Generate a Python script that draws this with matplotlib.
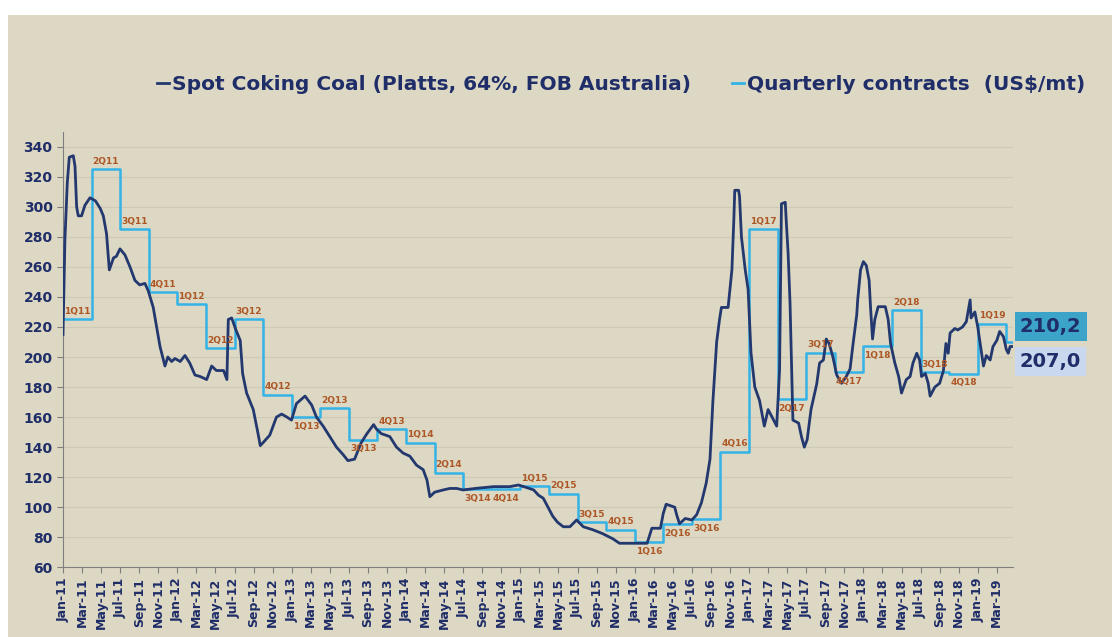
import matplotlib
matplotlib.use("Agg")
import matplotlib.pyplot as plt
from matplotlib.patches import Rectangle
from matplotlib.lines import Line2D

# spot price, months since Jan-2011
spot_month = [0.0, 0.2, 0.45, 0.66, 1.08, 1.26, 1.43, 1.6, 1.95, 2.3, 2.83, 3.4, 3.9, 4.23, 4.57,
              4.86, 5.3, 5.6, 5.98, 6.5, 7.03, 7.55, 8.05, 8.6, 8.95, 9.47, 9.83, 10.18, 10.7, 11.0,
              11.4, 11.75, 12.3, 12.8, 13.3, 13.85, 14.4, 15.08, 15.6, 16.1, 16.85, 17.2, 17.35, 17.7,
              18.15, 18.6, 18.85, 19.27, 19.97, 20.5, 20.7, 21.0, 21.7, 22.4, 22.95, 23.5, 23.98, 24.5,
              25.4, 26.1, 26.6, 27.3, 28.0, 28.7, 29.4, 29.9, 30.6, 31.3, 31.9, 32.6, 32.9, 33.4, 34.3,
              35.0, 35.7, 36.4, 37.1, 37.8, 38.2, 38.5, 39.0, 39.9, 40.6, 41.3, 42.0, 43.4, 45.2, 46.9,
              47.8, 48.7, 49.4, 49.9, 50.4, 50.9, 51.4, 51.9, 52.5, 53.2, 53.9, 54.6, 55.6, 56.6, 57.7,
              58.4, 59.8, 61.3, 61.8, 62.7, 63.0, 63.3, 64.2, 64.4, 64.7, 65.3, 66.0, 66.5, 67.0, 67.5,
              67.9, 68.2, 68.6, 68.9, 69.1, 69.8, 70.2, 70.4, 70.5, 70.9, 71.0, 71.2, 71.6, 71.9, 72.2,
              72.6, 73.1, 73.6, 74.0, 74.5, 74.9, 75.2, 75.4, 75.8, 75.9, 76.1, 76.3, 76.6, 77.2, 77.5,
              77.8, 78.1, 78.5, 79.1, 79.4, 79.8, 80.1, 80.4, 80.8, 81.2, 81.7, 82.2, 82.6, 82.9, 83.3,
              83.4, 83.7, 84.0, 84.3, 84.6, 84.75, 84.96, 85.2, 85.55, 86.3, 86.6, 86.85, 87.3, 87.7,
              88.0, 88.5, 88.9, 89.2, 89.6, 89.9, 90.1, 90.5, 90.8, 91.0, 91.5, 92.0, 92.4, 92.66, 92.9,
              93.1, 93.6, 93.9, 94.4, 94.8, 95.2, 95.3, 95.7, 96.0, 96.4, 96.6, 96.9, 97.3, 97.6, 98.0,
              98.3, 98.7, 99.0, 99.2, 99.4, 99.7]
spot_value = [215, 278, 316, 333, 334, 327, 300, 294, 294, 301, 306, 304, 299, 294, 282,
              258, 266, 267, 272, 268, 260, 251, 248, 249, 244, 233, 220, 207, 194, 200,
              197, 199, 197, 201, 196, 188, 187, 185, 194, 191, 191, 185, 225, 226,
              218, 211, 189, 176, 165, 148, 141, 143, 148, 160, 162, 160, 158, 169,
              174, 168, 160, 154, 147, 140, 135, 131, 132, 143, 149, 155, 152, 149, 147,
              140, 136, 134, 128, 125, 118, 107, 110, 111.5, 112.5, 112.5, 111.5, 112.6, 113.7, 113.7,
              114.8, 113, 111.5, 108, 106, 100, 94, 90, 87, 87, 91.5, 87, 85, 82.5, 79,
              76, 76, 76, 86, 86, 96, 102, 100, 95, 89, 92.5, 91.5, 95, 103, 116,
              132, 170, 210, 225, 233, 233, 258, 291, 311, 311, 307, 280, 258, 245, 203,
              180, 171, 154, 165, 159, 154, 191, 302, 303, 291, 269, 236, 158, 156, 147,
              140, 145, 165, 182, 196, 198, 212, 209, 200, 188, 182.5, 187, 192, 208, 228,
              238, 258, 263.5, 261, 251, 233, 212, 225, 233.5, 233.5, 225, 209, 196, 187,
              176, 185, 187, 196, 202.5, 198, 187, 189, 182.5, 174, 180, 182.5, 191, 209, 202.5,
              216, 219, 218, 220, 223.5, 238, 226, 230, 220, 202.5, 194, 201, 198, 207, 211,
              217, 213.5, 205, 202.5, 207, 207]

quarters = ['1Q11', '2Q11', '3Q11', '4Q11', '1Q12', '2Q12', '3Q12', '4Q12',
            '1Q13', '2Q13', '3Q13', '4Q13', '1Q14', '2Q14', '3Q14', '4Q14',
            '1Q15', '2Q15', '3Q15', '4Q15', '1Q16', '2Q16', '3Q16', '4Q16',
            '1Q17', '2Q17', '3Q17', '4Q17', '1Q18', '2Q18', '3Q18', '4Q18',
            '1Q19', '2Q19']
quarter_value = [225, 325, 285, 243, 235, 206, 225, 175,
                 160, 166, 145, 152, 143, 123, 112, 112,
                 114, 109, 90, 85, 77, 89, 92, 137,
                 285, 172, 203, 190, 207, 231, 190, 189,
                 222, 210.2]
# label above (1) or below (0) the step
label_above = [1, 1, 1, 1, 1, 1, 1, 1, 0, 1, 0, 1, 1, 1, 0, 0,
               1, 1, 1, 1, 0, 0, 0, 1, 1, 0, 1, 0, 0, 1, 1, 0, 1, 1]

month_names = ['Jan', 'Mar', 'May', 'Jul', 'Sep', 'Nov']
years = list(range(11, 20))
tick_labels = [f'{m}-{y}' for y in years for m in month_names][:50]

last_spot = '207,0'
last_quarter = '210,2'

navy = '#1f2d68'
spot_c = '#22386f'
quart_c = '#33b3e6'
lab_c = '#ad5726'
bg = '#ddd8c3'

plt.rcParams['font.family'] = ['DejaVu Sans']
plt.rcParams['font.weight'] = 'bold'

fig = plt.figure(figsize=(11.12, 6.37), dpi=100, facecolor='white')
fig.patches.append(Rectangle((8 / 1112, 0), 1, (637 - 15) / 637, transform=fig.transFigure,
                             facecolor=bg, edgecolor='none', zorder=-10))

ax = fig.add_axes([63 / 1112, 69.7 / 637, 950 / 1112, 435.6 / 637])
ax.patch.set_alpha(0)
end_m = spot_month[-1]

qx = [3 * i for i in range(len(quarter_value))]
ax.step(qx + [end_m], quarter_value + [quarter_value[-1]], where='post',
        color=quart_c, lw=1.8, zorder=3)
ax.plot(spot_month, spot_value, color=spot_c, lw=2.0, zorder=4)

for i, (name, v) in enumerate(zip(quarters, quarter_value)):
    if name == '2Q19':
        continue
    mid = qx[i] + 1.5
    if label_above[i]:
        ax.annotate(name, (mid, v), xytext=(0, 2.5), textcoords='offset points',
                    ha='center', va='bottom', fontsize=6.5, color=lab_c, zorder=5)
    else:
        ax.annotate(name, (mid, v), xytext=(0, -3.5), textcoords='offset points',
                    ha='center', va='top', fontsize=6.5, color=lab_c, zorder=5)

ax.annotate(last_quarter, (end_m, quarter_value[-1]), xytext=(5, 11), textcoords='offset points',
            ha='left', va='center', fontsize=14, color=navy, annotation_clip=False,
            bbox=dict(boxstyle='square,pad=0.26', facecolor='#3ba4c8', edgecolor='none'))
ax.annotate(last_spot, (end_m, spot_value[-1]), xytext=(5, -10.5), textcoords='offset points',
            ha='left', va='center', fontsize=14, color=navy, annotation_clip=False,
            bbox=dict(boxstyle='square,pad=0.26', facecolor='#c9d8ee', edgecolor='none'))

ax.set_xlim(0, end_m)
ax.set_ylim(60, 350)
ax.set_yticks(range(60, 341, 20))
ax.set_xticks(range(0, 100, 2))
ax.set_xticklabels(tick_labels, rotation=90)
for y in range(80, 341, 20):
    ax.axhline(y, color='#cfcab6', lw=0.9, zorder=1)

for s in ['top', 'right']:
    ax.spines[s].set_visible(False)
for s in ['left', 'bottom']:
    ax.spines[s].set_color('#7f7f7f')
ax.tick_params(axis='both', colors='#7f7f7f', length=4, labelcolor=navy)
ax.tick_params(axis='y', labelsize=10)
ax.tick_params(axis='x', labelsize=9)

handles = [Line2D([], [], color=spot_c, lw=2),
           Line2D([], [], color=quart_c, lw=2)]
fig.legend(handles, ['Spot Coking Coal (Platts, 64%, FOB Australia)', 'Quarterly contracts  (US$/mt)'],
           loc='center', bbox_to_anchor=(621 / 1112, 1 - 85 / 637), ncol=2, frameon=False,
           handlelength=0.6, handletextpad=0.15, columnspacing=2.0,
           prop={'weight': 'bold', 'size': 14.5}, labelcolor=navy)

fig.savefig('out.png', dpi=100, facecolor='white')
